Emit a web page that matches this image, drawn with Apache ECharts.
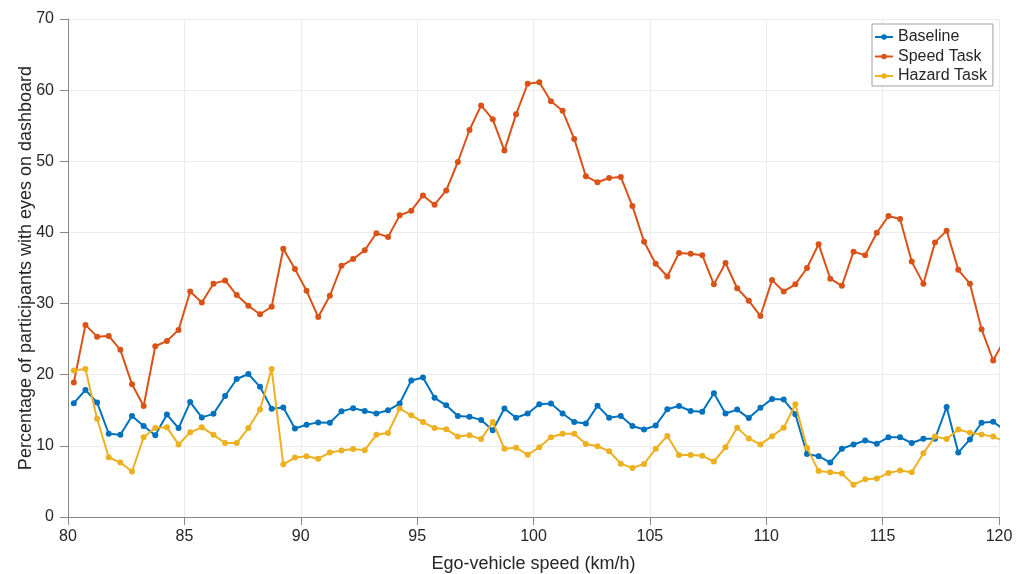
<!DOCTYPE html>
<html>
<head>
<meta charset="utf-8">
<script src="https://cdn.jsdelivr.net/npm/echarts@6/dist/echarts.min.js"></script>
<style>html,body{margin:0;padding:0;background:#fff;}#chart{width:1029px;height:574px;}</style>
</head>
<body>
<div id="chart"></div>
<script>
const speeds = [80.25,80.75,81.25,81.75,82.25,82.75,83.25,83.75,84.25,84.75,
85.25,85.75,86.25,86.75,87.25,87.75,88.25,88.75,89.25,89.75,
90.25,90.75,91.25,91.75,92.25,92.75,93.25,93.75,94.25,94.75,
95.25,95.75,96.25,96.75,97.25,97.75,98.25,98.75,99.25,99.75,
100.25,100.75,101.25,101.75,102.25,102.75,103.25,103.75,104.25,104.75,
105.25,105.75,106.25,106.75,107.25,107.75,108.25,108.75,109.25,109.75,
110.25,110.75,111.25,111.75,112.25,112.75,113.25,113.75,114.25,114.75,
115.25,115.75,116.25,116.75,117.25,117.75,118.25,118.75,119.25,119.75,
120.25];

const baseline = [16.0,17.85,16.1,11.7,11.55,14.2,12.8,11.5,14.4,12.5,
16.15,14.0,14.5,17.0,19.4,20.1,18.3,15.2,15.4,12.45,
12.96,13.3,13.25,14.85,15.3,14.9,14.55,15.0,15.95,19.2,
19.6,16.75,15.7,14.2,14.1,13.65,12.2,15.25,13.95,14.55,
15.85,15.95,14.55,13.35,13.15,15.65,13.95,14.2,12.8,12.3,
12.85,15.15,15.6,14.9,14.8,17.4,14.55,15.1,13.9,15.35,
16.6,16.5,14.45,8.85,8.55,7.65,9.6,10.2,10.75,10.3,
11.2,11.2,10.4,11.0,11.0,15.45,9.05,10.9,13.25,13.4,
12.2];

const speedTask = [18.9,27.0,25.35,25.45,23.5,18.65,15.6,24.0,24.75,26.3,
31.7,30.15,32.8,33.25,31.2,29.7,28.5,29.55,37.7,34.85,
31.8,28.1,31.1,35.3,36.25,37.5,39.9,39.35,42.4,43.05,
45.2,43.9,45.9,49.9,54.4,57.85,55.9,51.5,56.6,60.9,
61.1,58.45,57.1,53.15,47.9,47.05,47.65,47.8,43.7,38.7,
35.6,33.8,37.1,37.0,36.8,32.7,35.7,32.15,30.4,28.25,
33.3,31.7,32.7,35.0,38.35,33.5,32.5,37.3,36.8,39.95,
42.3,41.9,35.9,32.8,38.6,40.25,34.75,32.8,26.4,22.0,
25.0];

const hazardTask = [20.6,20.8,13.8,8.4,7.65,6.4,11.2,12.5,12.6,10.2,
11.9,12.6,11.55,10.4,10.4,12.5,15.1,20.8,7.4,8.35,
8.55,8.2,9.05,9.35,9.55,9.4,11.55,11.8,15.25,14.3,
13.35,12.5,12.35,11.3,11.5,10.95,13.35,9.6,9.75,8.75,
9.8,11.2,11.7,11.7,10.25,9.95,9.25,7.5,6.9,7.45,
9.6,11.4,8.7,8.7,8.6,7.8,9.8,12.55,11.05,10.2,
11.35,12.55,15.85,9.75,6.45,6.3,6.1,4.55,5.3,5.4,
6.2,6.55,6.3,8.95,11.3,10.95,12.3,11.85,11.6,11.3,
10.6];

const seriesNames = ['Baseline','Speed Task','Hazard Task'];
const seriesColors = ['#0072BD','#D95319','#EDB120'];
const seriesValues = [baseline, speedTask, hazardTask];

const xTitle = 'Ego-vehicle speed (km/h)';
const yTitle = 'Percentage of participants with eyes on dashboard';

const chart = echarts.init(document.getElementById('chart'), null, {renderer:'canvas'});
const font = 'Liberation Sans, Arial, Helvetica, sans-serif';

chart.setOption({
  animation: false,
  backgroundColor: '#ffffff',
  textStyle: {fontFamily: font},
  grid: {left: 68, right: 30, top: 19, bottom: 57, containLabel: false, outerBoundsMode: 'none'},
  legend: {
    orient: 'vertical',
    left: 872, top: 24,
    padding: [5, 6, 2, 2],
    itemGap: 3.5,
    itemWidth: 18, itemHeight: 7,
    borderColor: '#a0a0a0', borderWidth: 1,
    backgroundColor: '#ffffff',
    textStyle: {fontFamily: font, fontSize: 16, color: '#262626'},
    data: seriesNames
  },
  xAxis: {
    type: 'value', min: 80, max: 120, interval: 5,
    name: xTitle, nameLocation: 'middle', nameGap: 38, nameMoveOverlap: false,
    nameTextStyle: {fontFamily: font, fontSize: 18, color: '#262626'},
    axisLine: {show: true, lineStyle: {color: '#888888', width: 1}},
    axisTick: {show: true, inside: false, length: 8, lineStyle: {color: '#888888'}},
    axisLabel: {fontFamily: font, fontSize: 16, color: '#262626', margin: 12},
    splitLine: {show: true, lineStyle: {color: '#ebebeb', width: 1}}
  },
  yAxis: {
    type: 'value', min: 0, max: 70, interval: 10,
    name: yTitle, nameLocation: 'middle', nameGap: 33, nameMoveOverlap: false,
    nameTextStyle: {fontFamily: font, fontSize: 18, color: '#262626'},
    axisLine: {show: true, lineStyle: {color: '#888888', width: 1}},
    axisTick: {show: true, inside: false, length: 8, lineStyle: {color: '#888888'}},
    axisLabel: {fontFamily: font, fontSize: 16, color: '#262626', margin: 14},
    splitLine: {show: true, lineStyle: {color: '#ebebeb', width: 1}}
  },
  series: seriesNames.map((n, i) => ({
    name: n,
    type: 'line',
    clip: true,
    data: speeds.map((x, j) => [x, seriesValues[i][j]]),
    symbol: 'circle',
    symbolSize: 6,
    showAllSymbol: true,
    lineStyle: {color: seriesColors[i], width: 2},
    itemStyle: {color: seriesColors[i]},
    z: 2 + i
  }))
});
</script>
</body>
</html>
